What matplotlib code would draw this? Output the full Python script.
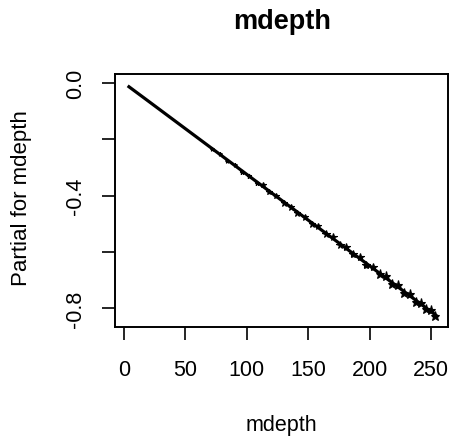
import matplotlib
matplotlib.use("Agg")
import matplotlib.pyplot as plt

plt.rcParams['font.family'] = ['Liberation Sans', 'DejaVu Sans']

mdepth = [3, 20, 40, 60, 80, 100, 120, 140, 160, 180, 200, 220, 240, 255]
partial = [-0.010, -0.065, -0.130, -0.195, -0.260, -0.325, -0.390, -0.455, -0.520, -0.585, -0.650, -0.715, -0.780, -0.829]

pts_x = [72, 78, 84, 90, 96, 102, 108, 113, 118, 124, 130, 136, 141, 147, 153, 158, 164, 170, 176, 181, 186, 192, 197, 203, 208, 213, 218, 223, 228, 233, 238, 242, 246, 250, 253]
pts_y = [-0.236, -0.251, -0.276, -0.290, -0.316, -0.329, -0.355, -0.364, -0.389, -0.402, -0.426, -0.439, -0.461, -0.475, -0.501, -0.509, -0.537, -0.547, -0.576, -0.583, -0.609, -0.618, -0.645, -0.652, -0.680, -0.686, -0.713, -0.718, -0.747, -0.749, -0.779, -0.782, -0.802, -0.808, -0.827]
pts_ms = [3, 3, 3, 3, 3.5, 3.5, 3.5, 4, 4, 4, 4.5, 4.5, 4.5, 5, 5, 5, 5.5, 5.5, 5.5, 6, 6, 6, 6, 6, 6.5, 6.5, 6.5, 6.5, 6.5, 6.5, 6.5, 6.5, 6.5, 6.5, 6.5]

xticks = [0, 50, 100, 150, 200, 250]
yticks = [0.0, -0.2, -0.4, -0.6, -0.8]
ylabels = ['0.0', '', '-0.4', '', '-0.8']

fs = 15.5
fig = plt.figure(figsize=(4.5, 4.39), dpi=100)
ax = fig.add_axes([0.2556, 0.2528, 0.74, 0.5764])
ax.plot(mdepth, partial, color='black', lw=2.3, solid_capstyle='butt')
for x, y, m in zip(pts_x, pts_y, pts_ms):
    ax.plot([x], [y], linestyle='none', marker='*', ms=m, color='black', mew=0.8)

ax.set_xlim(-7.3, 263.7)
ax.set_ylim(-0.867, 0.032)
ax.set_xticks(xticks)
ax.set_xticklabels([str(v) for v in xticks], fontsize=fs)
ax.set_yticks(yticks)
ax.set_yticklabels(ylabels, fontsize=fs, rotation=90, va='center')
ax.tick_params(direction='out', length=9.5, width=1.2)
ax.tick_params(axis='x', pad=13.5)
ax.tick_params(axis='y', pad=11.5)
for s in ax.spines.values():
    s.set_linewidth(1.4)

fig.text(281.5/450, 1 - 431/439, 'mdepth', fontsize=fs, ha='center', va='baseline')
fig.text(21.5/450, 1 - 198.5/439, 'Partial for mdepth', fontsize=16, ha='center', va='center', rotation=90)
fig.text(282.5/450, 1 - 29/439, 'mdepth', fontsize=19.5, fontweight='bold', ha='center', va='baseline')

fig.savefig('out.png', dpi=100)
